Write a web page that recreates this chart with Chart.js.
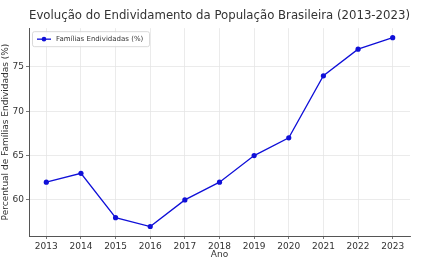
<!DOCTYPE html>
<html>
<head>
<meta charset="utf-8">
<script src="https://cdn.jsdelivr.net/npm/chart.js@4"></script>
<style>
html,body{margin:0;padding:0;background:#fff;}
#wrap{width:430px;height:263px;position:relative;}
</style>
</head>
<body>
<div id="wrap"><canvas id="c" width="430" height="263"></canvas></div>
<script>
const years = ['2013','2014','2015','2016','2017','2018','2019','2020','2021','2022','2023'];
const familiasEndividadas = [62, 63, 58, 57, 60, 62, 65, 67, 74, 77, 78.3];
const yTicks = [60, 65, 70, 75];
const seriesLabel = 'Famílias Endividadas (%)';
const chartTitle = 'Evolução do Endividamento da População Brasileira (2013-2023)';

const FONT = "'DejaVu Sans', sans-serif";
const TXT = '#333333';

const legendInside = {
  id: 'legendInside',
  afterDraw(chart) {
    const ctx = chart.ctx, a = chart.chartArea;
    const ds = chart.data.datasets[0];
    const x = a.left + 3, y = a.top + 3, w = 117, h = 15;
    ctx.save();
    ctx.fillStyle = 'rgba(255,255,255,0.8)';
    ctx.strokeStyle = '#d0d0d0';
    ctx.lineWidth = 0.8;
    ctx.beginPath();
    ctx.roundRect ? ctx.roundRect(x + 0.5, y + 0.5, w, h, 2) : ctx.rect(x + 0.5, y + 0.5, w, h);
    ctx.fill(); ctx.stroke();
    const cy = y + h / 2 + 0.5;
    ctx.strokeStyle = ds.borderColor; ctx.lineWidth = 1.3;
    ctx.beginPath(); ctx.moveTo(x + 5, cy); ctx.lineTo(x + 19, cy); ctx.stroke();
    ctx.fillStyle = ds.borderColor;
    ctx.beginPath(); ctx.arc(x + 12, cy, 2.3, 0, Math.PI * 2); ctx.fill();
    ctx.fillStyle = TXT;
    ctx.font = '7px ' + FONT;
    ctx.textBaseline = 'middle';
    ctx.fillText(ds.label, x + 24, cy);
    ctx.restore();
  }
};

new Chart(document.getElementById('c'), {
  type: 'line',
  data: {
    labels: years,
    datasets: [{
      label: seriesLabel,
      data: familiasEndividadas,
      borderColor: '#1010d8',
      backgroundColor: '#1010d8',
      borderWidth: 1.3,
      pointRadius: 2.6,
      pointHoverRadius: 2.6,
      pointBorderWidth: 0,
      tension: 0
    }]
  },
  options: {
    responsive: false,
    animation: false,
    devicePixelRatio: 1,
    layout: { padding: { left: 0, right: 20, top: 0, bottom: 0 } },
    plugins: {
      legend: { display: false },
      tooltip: { enabled: false },
      title: {
        display: true,
        fullSize: false,
        text: chartTitle,
        color: TXT,
        font: { family: FONT, size: 11.8, weight: 'normal' },
        padding: { top: 9, bottom: 5 }
      }
    },
    scales: {
      x: {
        type: 'category',
        offset: true,
        grid: { color: '#e6e6e6', lineWidth: 0.8, offset: false, drawTicks: true, tickLength: 3, tickColor: '#555' },
        border: { color: '#555', width: 1 },
        ticks: { color: TXT, font: { family: FONT, size: 9 }, padding: 2, maxRotation: 0, autoSkip: false },
        title: { display: true, text: 'Ano', color: TXT, font: { family: FONT, size: 9 }, padding: { top: 0, bottom: 3 } },
        afterFit(s) { s.height = 27; }
      },
      y: {
        min: 55.93,
        max: 79.37,
        afterBuildTicks(s) { s.ticks = yTicks.map(v => ({ value: v })); },
        grid: { color: '#e6e6e6', lineWidth: 0.8, drawTicks: true, tickLength: 3, tickColor: '#555' },
        border: { color: '#555', width: 1 },
        ticks: { color: TXT, font: { family: FONT, size: 9 }, padding: 2 },
        title: { display: true, text: 'Percentual de Famílias Endividadas (%)', color: TXT, font: { family: FONT, size: 9 }, padding: { top: 0, bottom: 1 } },
        afterFit(s) { s.width = 29; }
      }
    }
  },
  plugins: [legendInside]
});
</script>
</body>
</html>
